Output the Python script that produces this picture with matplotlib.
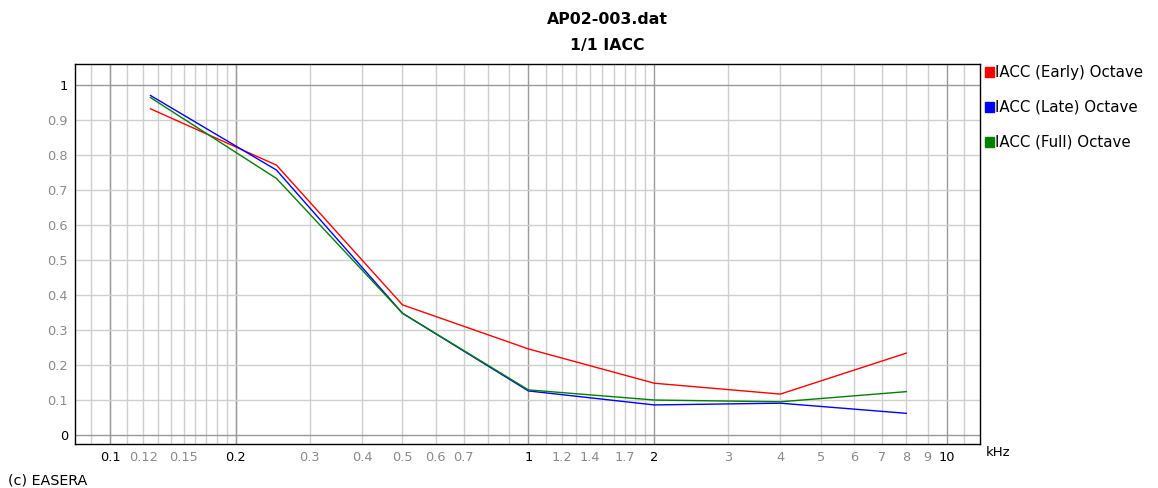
import numpy as np
import matplotlib.pyplot as plt

# octave band centres (kHz) and IACC values
freqs = [0.125, 0.25, 0.5, 1, 2, 4, 8]
iacc_early = [0.931, 0.770, 0.371, 0.245, 0.147, 0.116, 0.233]
iacc_late = [0.969, 0.756, 0.347, 0.125, 0.085, 0.090, 0.061]
iacc_full = [0.963, 0.732, 0.347, 0.128, 0.099, 0.094, 0.123]

series_names = ["IACC (Early) Octave", "IACC (Late) Octave", "IACC (Full) Octave"]
series_colors = ["#ff0000", "#0000ff", "#008000"]

x_ticks = [0.1, 0.12, 0.15, 0.2, 0.3, 0.4, 0.5, 0.6, 0.7, 1, 1.2, 1.4, 1.7, 2,
           3, 4, 5, 6, 7, 8, 9, 10]
x_major = [0.1, 0.2, 1, 2, 10]
y_ticks = [0, 0.1, 0.2, 0.3, 0.4, 0.5, 0.6, 0.7, 0.8, 0.9, 1]

plt.rcParams['font.family'] = ['DejaVu Sans']

W, H = 1158, 488
fig = plt.figure(figsize=(W / 100, H / 100), dpi=100)
ax = fig.add_axes([75 / W, 1 - 444 / H, (980 - 75) / W, (444 - 64) / H])

ax.set_xscale('log')
ax.set_xlim(0.0825, 12.0)
ax.set_ylim(-0.0266, 1.059)

# grid lines: 0.01 steps from 0.09 to 0.2, 0.1 steps to 2, 1 steps to 12
grid_x = list(np.round(np.arange(0.09, 0.2, 0.01), 3)) + \
    list(np.round(np.arange(0.3, 1.0, 0.1), 2)) + \
    list(np.round(np.arange(1.1, 2.0, 0.1), 2)) + list(range(3, 10)) + [11]
for gx in grid_x:
    ax.axvline(gx, color='#cfcfcf', lw=1, zorder=0)
for gx in x_major:
    ax.axvline(gx, color='#9a9a9a', lw=1, zorder=0)
for gy in y_ticks:
    c = '#9a9a9a' if gy in (0, 1) else '#cfcfcf'
    ax.axhline(gy, color=c, lw=1, zorder=0)

for vals, col in zip([iacc_early, iacc_late, iacc_full], series_colors):
    ax.plot(freqs, vals, color=col, lw=1, zorder=3)

ax.minorticks_off()
ax.set_xticks(x_ticks)
ax.set_xticklabels([f"{t:g}" for t in x_ticks])
ax.set_yticks(y_ticks)
ax.set_yticklabels([f"{t:g}" for t in y_ticks])
ax.tick_params(length=0, labelsize=9.3, pad=5)
for lab, t in zip(ax.get_xticklabels(), x_ticks):
    lab.set_color('black' if t in x_major else '#8a8a8a')
for lab, t in zip(ax.get_yticklabels(), y_ticks):
    lab.set_color('black' if t in (0, 1) else '#8a8a8a')
for s in ax.spines.values():
    s.set_color('black')
    s.set_linewidth(1)

# titles
fig.text(607 / W, 1 - 20 / H, "AP02-003.dat", ha='center', va='center',
         fontsize=11.3, fontweight='bold')
fig.text(607 / W, 1 - 46 / H, "1/1 IACC", ha='center', va='center',
         fontsize=11.3, fontweight='bold')

# legend on the right
for i, (name, col) in enumerate(zip(series_names, series_colors)):
    yc = 72 + i * 35
    fig.patches.append(plt.Rectangle((985 / W, 1 - (yc + 5) / H), 9 / W, 10 / H,
                                     transform=fig.transFigure, color=col))
    fig.text(995 / W, 1 - yc / H, name, ha='left', va='center', fontsize=10.8)

fig.text(986 / W, 1 - 453 / H, "kHz", ha='left', va='center', fontsize=9.5)
fig.text(8 / W, 1 - 481 / H, "(c) EASERA", ha='left', va='center', fontsize=10.3)

fig.savefig("out.png", dpi=100)
